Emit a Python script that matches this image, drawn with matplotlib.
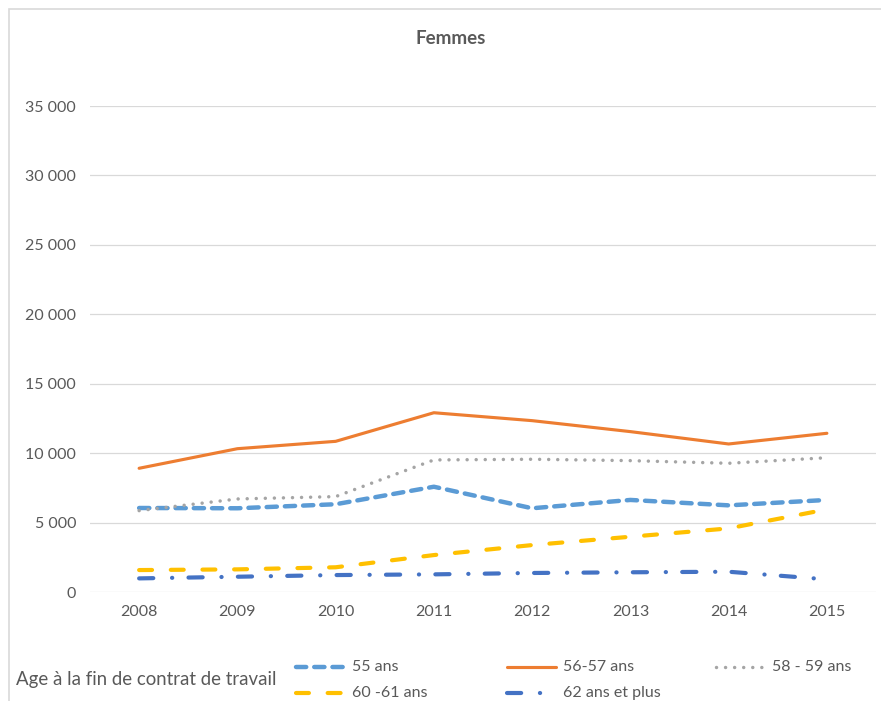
import matplotlib
matplotlib.use("Agg")
import matplotlib.pyplot as plt
from matplotlib.lines import Line2D
from matplotlib.patches import Rectangle
from matplotlib.ticker import FuncFormatter, MultipleLocator

plt.rcParams["font.family"] = ["Lato", "DejaVu Sans"]

YEARS = ["2008", "2009", "2010", "2011", "2012", "2013", "2014", "2015"]
AGE_55 = [6050, 6030, 6320, 7580, 6030, 6630, 6240, 6630]
AGE_56_57 = [8910, 10320, 10850, 12910, 12340, 11550, 10660, 11430]
AGE_58_59 = [5860, 6700, 6870, 9510, 9560, 9460, 9270, 9670]
AGE_60_61 = [1580, 1630, 1780, 2660, 3380, 3980, 4580, 5950]
AGE_62_PLUS = [980, 1100, 1220, 1270, 1370, 1420, 1460, 910]
LABELS = ["55 ans", "56-57 ans", "58 - 59 ans", "60 -61 ans", "62 ans et plus"]
LEGEND_TITLE = "Age à la fin de contrat de travail"

W, H = 881, 701
TEXT = "#595959"
GRID = "#D9D9D9"

# (colour, linewidth, dash pattern in lw units or None for solid)
STYLES = [
    ("#5B9BD5", 3.2, (2.3, 1.8)),
    ("#ED7D31", 2.25, None),
    ("#A5A5A5", 2.5, (0.01, 2.6)),
    ("#FFC000", 3.0, (3.1, 4.5)),
    ("#4472C4", 3.0, (3.4, 4.5, 0.05, 3.9)),
]


def style_line(line, style):
    color, lw, dashes = style
    line.set_color(color)
    line.set_linewidth(lw)
    line.set_solid_capstyle("round")
    line.set_dash_capstyle("round")
    line.set_solid_joinstyle("round")
    if dashes is not None:
        line.set_dashes(dashes)


fig = plt.figure(figsize=(W / 100, H / 100), dpi=100)
ax = fig.add_axes([90 / W, 1 - 592 / H, (876 - 90) / W, (592 - 106) / H])

series = [AGE_55, AGE_56_57, AGE_58_59, AGE_60_61, AGE_62_PLUS]
x = list(range(len(YEARS)))
for values, style in zip(series, STYLES):
    (ln,) = ax.plot(x, values)
    style_line(ln, style)

ax.set_xlim(-0.5, len(YEARS) - 0.5)
ax.set_ylim(0, 35000)
ax.yaxis.set_major_locator(MultipleLocator(5000))
ax.yaxis.set_major_formatter(FuncFormatter(lambda v, p: f"{int(v):,}".replace(",", " ")))
ax.set_xticks(x)
ax.set_xticklabels(YEARS)
ax.tick_params(length=0, colors=TEXT, labelsize=11.5)
ax.tick_params(axis="y", pad=10)
ax.tick_params(axis="x", pad=9)
ax.grid(axis="y", color=GRID, linewidth=0.9)
ax.set_axisbelow(True)
for sp in ax.spines.values():
    sp.set_visible(False)

fig.text(451 / W, 1 - 38 / H, "Femmes", ha="center", va="center",
         fontsize=13.5, fontweight="bold", color=TEXT)

# chart frame (cut on the right and bottom like the screenshot)
fig.add_artist(Rectangle((9 / W, -0.1), 1.2, 1.1 - 9 / H, transform=fig.transFigure,
                         fill=False, edgecolor=GRID, linewidth=1.2))

# ── Legend, laid out like the Excel one ──────────────────────────────
fig.text(16 / W, 1 - 680 / H, LEGEND_TITLE, ha="left", va="center",
         fontsize=13.4, color=TEXT)
legend_pos = [(296, 667), (507, 667), (716, 667), (296, 693), (507, 693)]
for label, style, (lx, ly) in zip(LABELS, STYLES, legend_pos):
    yf = 1 - ly / H
    h = Line2D([lx / W, (lx + 49) / W], [yf, yf], transform=fig.transFigure)
    style_line(h, style)
    fig.add_artist(h)
    fig.text((lx + 56) / W, yf, label, ha="left", va="center",
             fontsize=11.5, color=TEXT)

fig.savefig("out.png", dpi=100)
